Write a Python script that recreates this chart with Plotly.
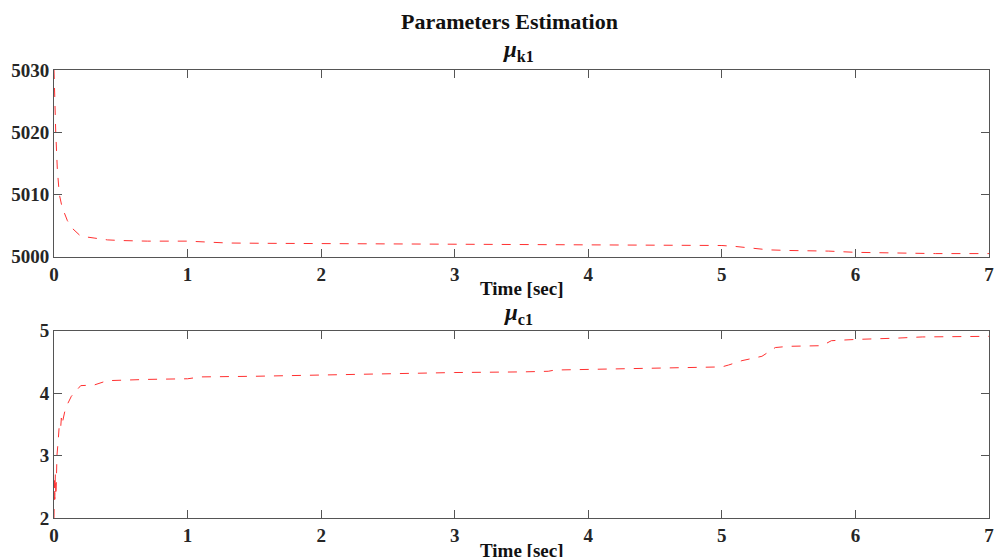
import plotly.graph_objects as go

# Panel 1: mu_k1
t_k1 = [0, 0.005, 0.013, 0.025, 0.04, 0.06, 0.08, 0.1, 0.14, 0.2, 0.3, 0.4, 0.5, 0.7,
        1.0, 1.1, 1.3, 1.6, 2.0, 2.5, 3.0, 3.5, 4.0, 4.5, 5.0, 5.1, 5.2, 5.35, 5.5,
        5.8, 6.0, 6.3, 6.6, 7.0]
mu_k1 = [5030, 5025, 5020, 5014, 5010, 5008, 5006.8, 5005.8, 5004.5, 5003.3, 5003.0,
         5002.7, 5002.6, 5002.5, 5002.5, 5002.4, 5002.2, 5002.15, 5002.1, 5002.05,
         5002.0, 5001.95, 5001.9, 5001.85, 5001.8, 5001.65, 5001.4, 5001.1, 5001.0,
         5000.9, 5000.7, 5000.6, 5000.5, 5000.5]

# Panel 2: mu_c1
t_c1 = [0, 0.003, 0.006, 0.01, 0.014, 0.018, 0.022, 0.03, 0.04, 0.05, 0.055, 0.06,
        0.08, 0.1, 0.13, 0.2, 0.3, 0.4, 0.5, 0.7, 1.0, 1.1, 1.5, 2.0, 2.2, 2.5, 3.0,
        3.5, 3.7, 3.75, 4.0, 4.5, 5.0, 5.05, 5.15, 5.3, 5.4, 5.5, 5.75, 5.82, 6.0,
        6.3, 6.5, 7.0]
mu_c1 = [2.0, 2.6, 2.3, 2.7, 2.35, 2.6, 3.0, 3.2, 3.5, 3.45, 3.6, 3.5, 3.7, 3.82,
         3.95, 4.12, 4.13, 4.2, 4.21, 4.22, 4.23, 4.26, 4.27, 4.29, 4.3, 4.31, 4.33,
         4.34, 4.35, 4.37, 4.38, 4.40, 4.42, 4.45, 4.52, 4.59, 4.73, 4.75, 4.76, 4.84,
         4.86, 4.88, 4.9, 4.91]

x_ticks = [0, 1, 2, 3, 4, 5, 6, 7]
y1_ticks = [5000, 5010, 5020, 5030]
y2_ticks = [2, 3, 4, 5]

FONT = "Liberation Serif, Times New Roman, serif"
line_style = dict(color="#ff3030", width=1, dash="dash")

fig = go.Figure()
fig.add_trace(go.Scatter(x=t_k1, y=mu_k1, mode="lines", line=line_style,
                         xaxis="x", yaxis="y", showlegend=False))
fig.add_trace(go.Scatter(x=t_c1, y=mu_c1, mode="lines", line=line_style,
                         xaxis="x2", yaxis="y2", showlegend=False))

tickfont = dict(family=FONT, size=19, color="#262626", weight="bold")
axis_common = dict(showgrid=False, zeroline=False, showline=True, linecolor="#555555",
                   linewidth=1, mirror="allticks", ticks="inside", ticklen=8,
                   tickcolor="#555555", tickfont=tickfont)

L, R, T, B = 54, 6, 70, 39
H = 557 - T - B
def py(p):
    return (557 - B - p) / H
def px(p):
    return (p - L) / (1000 - L - R)

fig.update_layout(
    width=1000, height=557,
    margin=dict(l=L, r=R, t=T, b=B),
    paper_bgcolor="white", plot_bgcolor="white",
    xaxis=dict(domain=[0, 1], range=[0, 7], tickvals=x_ticks, anchor="y", **axis_common),
    yaxis=dict(domain=[py(256.7), 1], range=[5000, 5030], tickvals=y1_ticks, anchor="x",
               **axis_common),
    xaxis2=dict(domain=[0, 1], range=[0, 7], tickvals=x_ticks, anchor="y2", **axis_common),
    yaxis2=dict(domain=[0, py(330.7)], range=[2, 5], tickvals=y2_ticks, anchor="x2",
                **axis_common),
)

def ann(text, x, y, size):
    fig.add_annotation(text=text, xref="paper", yref="paper", x=px(x), y=py(y),
                       showarrow=False, xanchor="center", yanchor="middle",
                       font=dict(family=FONT, size=size, color="#111111"))

ann("<b>Parameters Estimation</b>", 512, 22, 22)
ann("<b><i>μ</i><sub>k1</sub></b>", 521, 51, 23)
ann("<b><i>μ</i><sub>c1</sub></b>", 521, 314, 23)
ann("<b>Time [sec]</b>", 525, 288, 19)
ann("<b>Time [sec]</b>", 525, 550, 19)

fig.write_html("out.html")
